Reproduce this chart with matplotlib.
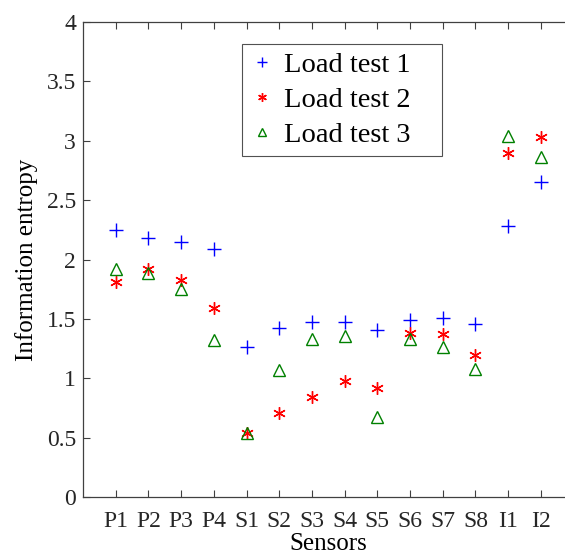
import matplotlib
matplotlib.use("Agg")
import matplotlib.pyplot as plt

sensors = ["P1", "P2", "P3", "P4", "S1", "S2", "S3", "S4", "S5", "S6", "S7", "S8", "I1", "I2"]
load_test_1 = [2.25, 2.18, 2.15, 2.09, 1.26, 1.42, 1.47, 1.47, 1.41, 1.49, 1.51, 1.46, 2.28, 2.65]
load_test_2 = [1.81, 1.92, 1.83, 1.59, 0.54, 0.71, 0.84, 0.98, 0.92, 1.38, 1.37, 1.20, 2.90, 3.03]
load_test_3 = [1.92, 1.89, 1.75, 1.325, 0.54, 1.07, 1.33, 1.36, 0.67, 1.33, 1.26, 1.08, 3.04, 2.86]
yticks = [0, 0.5, 1, 1.5, 2, 2.5, 3, 3.5, 4]
ytick_labels = ["0", "0.5", "1", "1.5", "2", "2.5", "3", "3.5", "4"]

plt.rcParams['font.family'] = ['Liberation Serif', 'DejaVu Serif']

fig = plt.figure(figsize=(5.65, 5.6), dpi=100)
ax = fig.add_axes([0.147, 0.1125, 0.868, 0.848])

x = list(range(1, len(sensors) + 1))
ax.plot(x, load_test_1, linestyle='none', marker='+', color='#0000ff', markersize=10, markeredgewidth=1.0, label='Load test 1')
ax.plot(x, load_test_2, linestyle='none', marker=(6, 2, 0), color='#ff0000', markersize=9, markeredgewidth=1.0, label='Load test 2')
ax.plot(x, load_test_3, linestyle='none', marker='^', color='#008000', markerfacecolor='none', markersize=9, markeredgewidth=1.0, label='Load test 3')

ax.set_xlim(0, 15)
ax.set_ylim(0, 4)
ax.set_xticks(x)
ax.set_xticklabels(sensors, fontsize=17)
ax.set_yticks(yticks)
ax.set_yticklabels(ytick_labels, fontsize=17)
ax.tick_params(direction='in', length=5, width=0.8, colors='#404040', labelcolor='#262626', top=True, right=True)
ax.tick_params(axis='x', pad=10)
ax.tick_params(axis='y', pad=5)
for s in ax.spines.values():
    s.set_color('#404040')
    s.set_linewidth(0.9)

ax.set_xlabel('Sensors', fontsize=18, labelpad=1)
ax.set_ylabel('Information entropy', fontsize=18, labelpad=6)

# legend box: x 242-442 px, top at 43 px
ax_left, ax_w = 83, 490.5
x0 = (242 - ax_left) / ax_w
w = 200 / ax_w
leg = ax.legend(loc='upper left', bbox_to_anchor=(x0, 0.954, w, 0.0), mode='expand', fontsize=20.5,
                frameon=True, fancybox=False, edgecolor='#262626', handletextpad=0.35, borderpad=0.28,
                labelspacing=0.32, handlelength=0.85, markerscale=0.7, borderaxespad=0)
leg.get_frame().set_linewidth(0.8)

fig.savefig('out.png', dpi=100)
